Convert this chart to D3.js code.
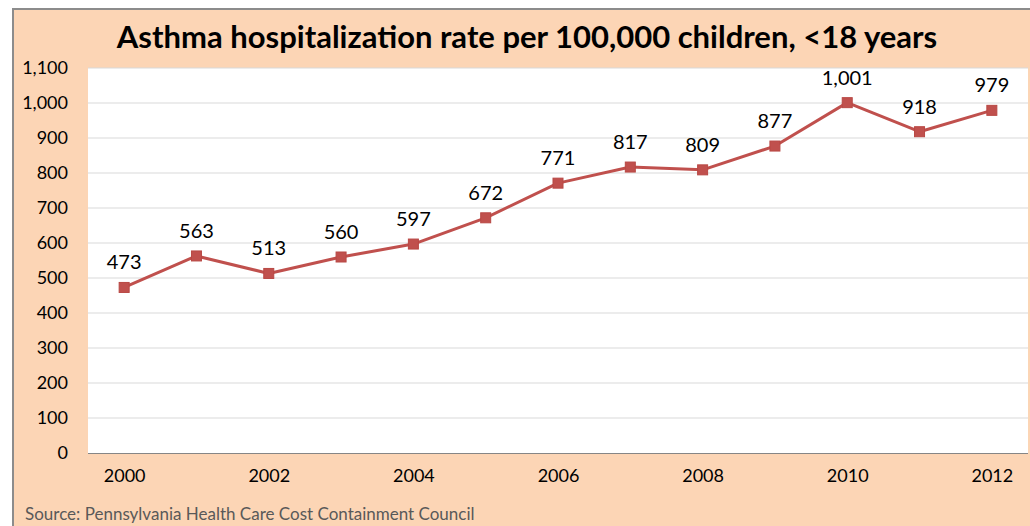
<!DOCTYPE html>
<html>
<head>
<meta charset="utf-8">
<script src="https://cdn.jsdelivr.net/npm/d3@7"></script>
<style>
  html, body { margin: 0; padding: 0; background: #fff; }
  svg { display: block; }
  text { font-family: Lato, "Open Sans", sans-serif; }
</style>
</head>
<body>
<svg id="chart" width="1030" height="526"></svg>
<script>
// Asthma hospitalization rate per 100,000 children under 18, Pennsylvania
const years = [2000, 2001, 2002, 2003, 2004, 2005, 2006, 2007, 2008, 2009, 2010, 2011, 2012];
const rates = [473, 563, 513, 560, 597, 672, 771, 817, 809, 877, 1001, 918, 979];
const yTicks = [0, 100, 200, 300, 400, 500, 600, 700, 800, 900, 1000, 1100];
const xTickLabels = [2000, 2002, 2004, 2006, 2008, 2010, 2012];

const W = 1030, H = 526;
const plot = { left: 88, top: 68, right: 1028, bottom: 453 };

const svg = d3.select("#chart");

// chart background panel with border
svg.append("rect")
  .attr("x", 13).attr("y", 9)
  .attr("width", W - 13 + 2).attr("height", H - 9 + 2)
  .attr("fill", "#FCD5B5")
  .attr("stroke", "#8C8C8C").attr("stroke-width", 2);

// plot area
svg.append("rect")
  .attr("x", plot.left).attr("y", plot.top)
  .attr("width", plot.right - plot.left).attr("height", plot.bottom - plot.top)
  .attr("fill", "#fff");

const x = d3.scalePoint()
  .domain(years)
  .range([plot.left, plot.right])
  .padding(0.5);

const y = d3.scaleLinear()
  .domain([0, 1100])
  .range([plot.bottom, plot.top]);

// horizontal gridlines
svg.append("g")
  .selectAll("line")
  .data(yTicks.filter(d => d > 0))
  .join("line")
  .attr("x1", plot.left).attr("x2", plot.right)
  .attr("y1", d => y(d)).attr("y2", d => y(d))
  .attr("stroke", "#D9D9D9").attr("stroke-width", 1);

// y axis labels
const yAxis = svg.append("g")
  .attr("transform", `translate(${plot.left},0)`)
  .call(d3.axisLeft(y).tickValues(yTicks).tickSize(0).tickPadding(20)
    .tickFormat(d3.format(",")));
yAxis.select(".domain").remove();
yAxis.selectAll("text")
  .attr("font-size", 18).attr("fill", "#000")
  .style("font-family", "Lato, 'Open Sans', sans-serif");

// x axis
const xAxis = svg.append("g")
  .attr("transform", `translate(0,${plot.bottom})`)
  .call(d3.axisBottom(x).tickValues(xTickLabels).tickSize(0).tickPadding(16)
    .tickFormat(d3.format("d")));
xAxis.select(".domain")
  .attr("d", `M${plot.left},0.5H${plot.right}`)
  .attr("stroke", "#868686").attr("stroke-width", 1);
xAxis.selectAll("text")
  .attr("font-size", 18).attr("fill", "#000")
  .style("font-family", "Lato, 'Open Sans', sans-serif");

// data line
const data = years.map((yr, i) => ({ year: yr, value: rates[i] }));
svg.append("path")
  .datum(data)
  .attr("fill", "none")
  .attr("stroke", "#C0504D")
  .attr("stroke-width", 3)
  .attr("stroke-linejoin", "round")
  .attr("d", d3.line().x(d => x(d.year)).y(d => y(d.value)));

// square markers
const m = 10;
svg.append("g")
  .selectAll("rect")
  .data(data)
  .join("rect")
  .attr("x", d => x(d.year) - m / 2)
  .attr("y", d => y(d.value) - m / 2)
  .attr("width", m).attr("height", m)
  .attr("fill", "#C0504D")
  .attr("stroke", "#B84844").attr("stroke-width", 1);

// value labels
svg.append("g")
  .selectAll("text")
  .data(data)
  .join("text")
  .attr("x", d => x(d.year))
  .attr("y", d => y(d.value) - 18)
  .attr("text-anchor", "middle")
  .attr("font-size", 20)
  .attr("fill", "#000")
  .text(d => d3.format(",")(d.value));

// title
svg.append("text")
  .attr("x", 527).attr("y", 48)
  .attr("text-anchor", "middle")
  .attr("font-size", 31)
  .attr("font-weight", "bold")
  .attr("fill", "#000")
  .text("Asthma hospitalization rate per 100,000 children, <18 years");

// source note
svg.append("text")
  .attr("x", 25).attr("y", 520)
  .attr("font-size", 17)
  .attr("fill", "#595959")
  .text("Source: Pennsylvania Health Care Cost Containment Council");
</script>
</body>
</html>
